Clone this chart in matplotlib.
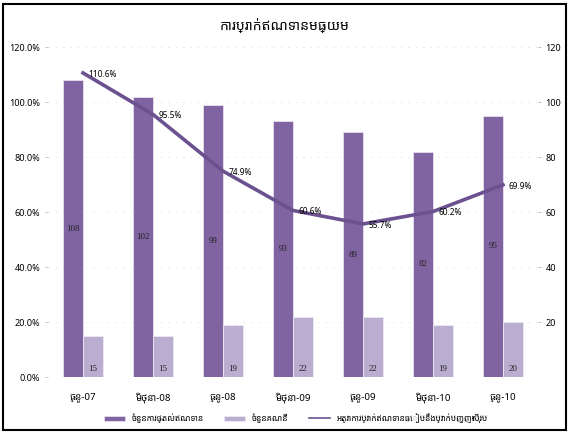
import numpy as np
import matplotlib.pyplot as plt
from matplotlib.patches import Rectangle
from matplotlib.lines import Line2D
from matplotlib.ticker import FuncFormatter

plt.rcParams['font.family'] = ['Noto Sans Khmer', 'Khmer OS', 'DejaVu Sans']

# ទិន្នន័យ
periods = ["ធ្នូ-07", "មិថុនា-08", "ធ្នូ-08", "មិថុនា-09", "ធ្នូ-09", "មិថុនា-10", "ធ្នូ-10"]
loans = [108, 102, 99, 93, 89, 82, 95]
accounts = [15, 15, 19, 22, 22, 19, 20]
ratio = [110.6, 95.5, 74.9, 60.6, 55.7, 60.2, 69.9]

title = "ការប្រាក់ឥណទានមធ្យម"
legend_labels = ["ចំនួនការផ្តល់ឥណទាន", "ចំនួនគណនី",
                 "អត្រាការប្រាក់ឥណទានធៀបនឹងប្រាក់បញ្ញើសរុប"]

dark = "#8064A2"
light = "#B9AED0"
line_col = "#6B5190"

fig = plt.figure(figsize=(5.69, 4.32), dpi=100)
ax = fig.add_axes([0.0844, 0.127, 0.861, 0.764])
ax2 = ax.twinx()

x = np.arange(len(periods))
w = 0.29
b1 = ax2.bar(x - w / 2, loans, w, color=dark, edgecolor="#E6E0EE", linewidth=0.6, label=legend_labels[0])
b2 = ax2.bar(x + w / 2, accounts, w, color=light, edgecolor="#EEEAF3", linewidth=0.6, label=legend_labels[1])
ax2.set_ylim(0, 120)
ax2.set_yticks([20, 40, 60, 80, 100, 120])

for xi, v in zip(x, loans):
    ax2.text(xi - w / 2, v / 2, str(v), ha="center", va="center", fontsize=6.5,
             family="Liberation Serif", color="#222222")
for xi, v in zip(x, accounts):
    ax2.text(xi + w / 2, 1.5, str(v), ha="center", va="bottom", fontsize=6.5,
             family="Liberation Serif", color="#222222")

# ខ្សែអត្រា
ax.set_zorder(ax2.get_zorder() + 1)
ax.patch.set_visible(False)
ln, = ax.plot(x, ratio, color=line_col, linewidth=2.6, label=legend_labels[2])
for xi, v in zip(x, ratio):
    ax.text(xi + 0.08, v - 0.5, f"{v:.1f}%", fontsize=6, fontweight="bold", va="center")

ax.set_ylim(0, 120)
ax.set_xlim(-0.5, len(periods) - 0.5)
ax.set_yticks(np.arange(0, 121, 20))
ax.yaxis.set_major_formatter(FuncFormatter(lambda v, p: f"{v:.1f}%"))
ax.set_xticks(x)
ax.set_xticklabels(periods)

for a in (ax, ax2):
    for s in a.spines.values():
        s.set_visible(False)
    a.tick_params(axis="y", length=2, width=0.6, color="#BBBBBB", labelsize=6.5, labelcolor="black")
    for lab in a.get_yticklabels():
        lab.set_fontweight("bold")
ax.tick_params(axis="x", length=0, labelsize=7, pad=11)
for lab in ax.get_xticklabels():
    lab.set_fontweight("bold")
ax2.grid(axis="y", color="#CCCCCC", linestyle=(0, (1, 8)), linewidth=0.6)
ax2.set_axisbelow(True)

fig.text(0.5, 0.94, title, ha="center", va="center", fontsize=10, fontweight="bold")

# legend line drawn thinner than the series line
line_handle = Line2D([], [], color=line_col, linewidth=1.2)
handles = [b1, b2, line_handle]
fig.legend(handles, legend_labels, loc="center", bbox_to_anchor=(0.52, 0.032), ncol=3,
           frameon=False, fontsize=6, handlelength=2.5, handleheight=0.5, columnspacing=2.5)

fig.patches.append(Rectangle((0.005, 0.005), 0.99, 0.985, transform=fig.transFigure,
                             fill=False, edgecolor="black", linewidth=1.5))

fig.savefig("out.png", dpi=100)
